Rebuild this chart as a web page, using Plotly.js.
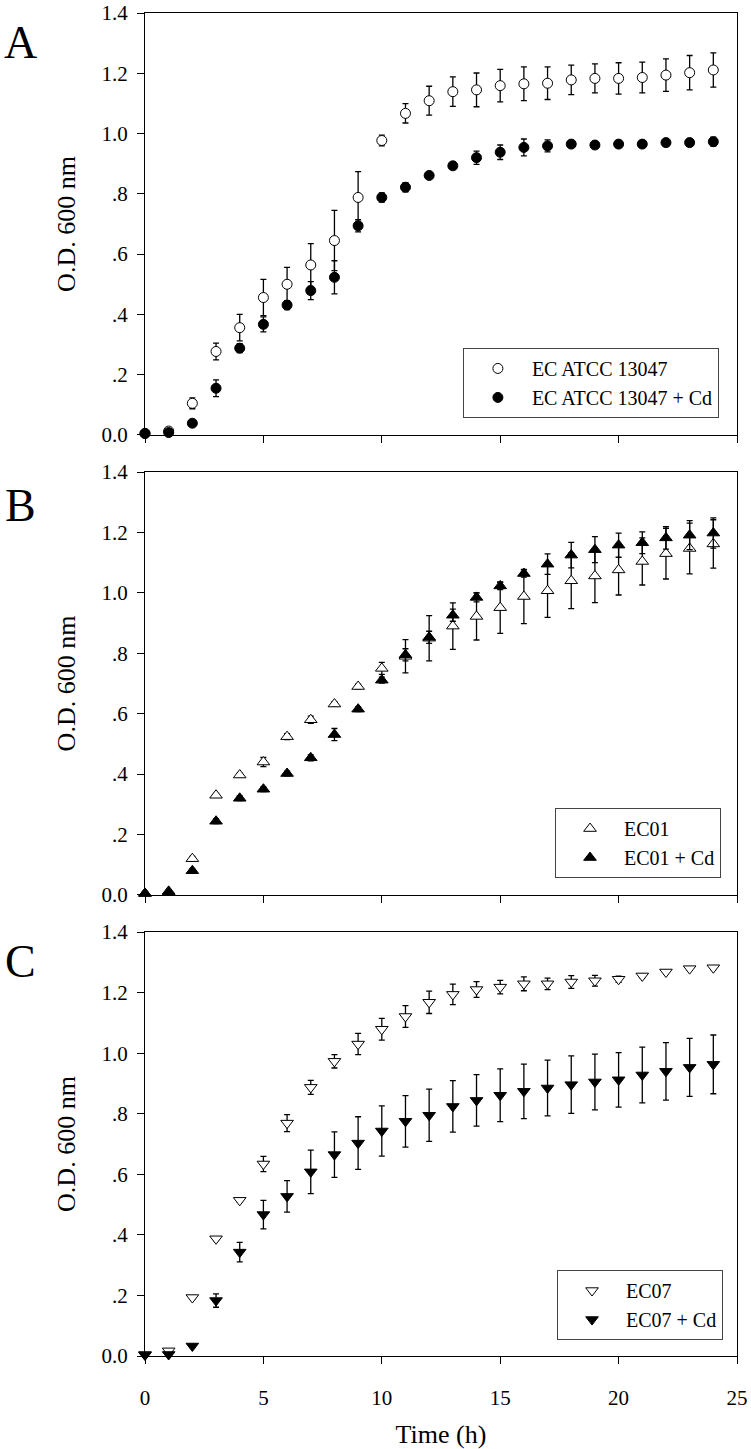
<!DOCTYPE html>
<html>
<head>
<meta charset="utf-8">
<script src="https://cdn.plot.ly/plotly-3.0.1.min.js"></script>
<style>html,body{margin:0;padding:0;background:#fff;}#chart{width:751px;height:1449px;}</style>
</head>
<body>
<div id="chart"></div>
<script>
// ---- data ----
const hours = [0,1,2,3,4,5,6,7,8,9,10,11,12,13,14,15,16,17,18,19,20,21,22,23,24];

const atccMean   = [0.005,0.013,0.105,0.277,0.356,0.456,0.500,0.564,0.645,0.788,0.977,1.067,1.109,1.139,1.145,1.159,1.165,1.167,1.178,1.183,1.183,1.186,1.194,1.202,1.211];
const atccErr    = [0.003,0.004,0.018,0.028,0.044,0.060,0.056,0.071,0.100,0.086,0.018,0.032,0.048,0.049,0.056,0.054,0.056,0.054,0.049,0.048,0.052,0.051,0.054,0.057,0.057];
const atccCdMean = [0.005,0.008,0.039,0.155,0.288,0.367,0.431,0.479,0.523,0.694,0.788,0.822,0.861,0.893,0.920,0.938,0.954,0.959,0.965,0.962,0.965,0.965,0.970,0.970,0.973];
const atccCdErr  = [0.003,0.003,0.010,0.028,0.015,0.025,0.015,0.030,0.055,0.020,0.015,0.015,0.008,0.010,0.022,0.024,0.028,0.020,0.008,0.010,0.010,0.010,0.012,0.010,0.015];

const ec01Mean   = [0.005,0.012,0.120,0.330,0.397,0.440,0.524,0.580,0.632,0.690,0.750,0.790,0.850,0.890,0.922,0.951,0.988,1.007,1.040,1.056,1.076,1.104,1.130,1.147,1.162];
const ec01Err    = [0.003,0.003,0.008,0.006,0.006,0.015,0.010,0.012,0.008,0.008,0.020,0.055,0.075,0.077,0.078,0.085,0.090,0.088,0.092,0.088,0.083,0.078,0.084,0.084,0.080];
const ec01CdMean = [0.005,0.010,0.080,0.244,0.320,0.350,0.402,0.454,0.531,0.615,0.711,0.795,0.853,0.926,0.985,1.023,1.064,1.095,1.125,1.143,1.158,1.166,1.182,1.191,1.198];
const ec01CdErr  = [0.003,0.003,0.006,0.008,0.008,0.008,0.008,0.010,0.020,0.008,0.010,0.020,0.020,0.020,0.015,0.012,0.012,0.034,0.042,0.043,0.040,0.036,0.037,0.048,0.050];

const ec07Mean   = [0.005,0.017,0.193,0.387,0.514,0.634,0.769,0.887,0.973,1.030,1.079,1.121,1.168,1.194,1.210,1.218,1.229,1.229,1.235,1.239,1.244,1.255,1.268,1.279,1.282];
const ec07Err    = [0.003,0.004,0.006,0.006,0.006,0.025,0.028,0.023,0.022,0.035,0.036,0.036,0.037,0.034,0.026,0.022,0.023,0.019,0.021,0.018,0.010,0.006,0.006,0.006,0.006];
const ec07CdMean = [0.003,0.005,0.033,0.183,0.343,0.467,0.527,0.608,0.665,0.703,0.743,0.775,0.795,0.824,0.844,0.861,0.874,0.885,0.896,0.905,0.912,0.928,0.940,0.953,0.963];
const ec07CdErr  = [0.002,0.003,0.005,0.022,0.032,0.047,0.052,0.072,0.075,0.087,0.083,0.085,0.086,0.085,0.085,0.087,0.090,0.092,0.095,0.092,0.090,0.092,0.095,0.096,0.097];

const seriesNames = ['EC ATCC 13047','EC ATCC 13047 + Cd','EC01','EC01 + Cd','EC07','EC07 + Cd'];
const panelLetters = ['A','B','C'];
const yTickVals = [0,0.2,0.4,0.6,0.8,1.0,1.2,1.4];
const yTickText = ['0.0','.2','.4','.6','.8','1.0','1.2','1.4'];
const xTickVals = [0,5,10,15,20,25];
const xTickText = ['0','5','10','15','20','25'];
const yTitle = 'O.D. 600 nm';
const xTitle = 'Time (h)';

// ---- styling ----
const FONT = '"Liberation Serif", "Times New Roman", serif';

function trace(y, err, name, symbol, filled, xa, ya, leg, size){
  return {
    x: hours, y: y, name: name, type: 'scatter', mode: 'markers',
    xaxis: xa, yaxis: ya, legend: leg, cliponaxis: false,
    marker: {symbol: symbol, size: size, color: filled ? '#000' : '#fff',
             line: {color: '#000', width: 1}},
    error_y: {type: 'data', array: err, visible: true, color: '#000', thickness: 1.3, width: 3}
  };
}

const data = [
  trace(atccMean,   atccErr,   seriesNames[0], 'circle', false, 'x',  'y',  'legend', 10),
  trace(atccCdMean, atccCdErr, seriesNames[1], 'circle', true,  'x',  'y',  'legend', 10),
  trace(ec01Mean,   ec01Err,   seriesNames[2], 'triangle-up', false, 'x2', 'y2', 'legend2', 11),
  trace(ec01CdMean, ec01CdErr, seriesNames[3], 'triangle-up', true,  'x2', 'y2', 'legend2', 11),
  trace(ec07Mean,   ec07Err,   seriesNames[4], 'triangle-down', false, 'x3', 'y3', 'legend3', 11),
  trace(ec07CdMean, ec07CdErr, seriesNames[5], 'triangle-down', true,  'x3', 'y3', 'legend3', 11)
];

function xax(anchor, labels){
  return {
    anchor: anchor, domain: [0,1], range: [0,25], tickmode: 'array',
    tickvals: xTickVals, ticktext: xTickText, showticklabels: labels,
    ticks: 'outside', ticklen: 7, tickwidth: 1, tickcolor: '#000',
    showline: true, linecolor: '#000', linewidth: 1, mirror: true,
    showgrid: false, zeroline: false, ticklabelstandoff: 16,
    tickfont: {family: FONT, size: 21, color: '#000'},
    title: labels ? {text: xTitle, font: {family: FONT, size: 26, color: '#000'}, standoff: 15} : {text: ''}
  };
}
function yax(anchor, domain){
  return {
    anchor: anchor, domain: domain, range: [0,1.4], tickmode: 'array',
    tickvals: yTickVals, ticktext: yTickText,
    ticks: 'outside', ticklen: 7, tickwidth: 1, tickcolor: '#000',
    showline: true, linecolor: '#000', linewidth: 1, mirror: true,
    showgrid: false, zeroline: false, ticklabelstandoff: 5,
    tickfont: {family: FONT, size: 21, color: '#000'},
    title: {text: yTitle, font: {family: FONT, size: 26, color: '#000'}, standoff: 18}
  };
}
function leg(x, y){
  return {x: x, y: y, xanchor: 'left', yanchor: 'top', bgcolor: '#fff',
          bordercolor: '#444', borderwidth: 1, traceorder: 'normal',
          font: {family: FONT, size: 20, color: '#000'}, itemwidth: 58};
}

const layout = {
  width: 751, height: 1449,
  margin: {l: 145, r: 14, t: 13, b: 93},
  paper_bgcolor: '#fff', plot_bgcolor: '#fff',
  showlegend: true,
  font: {family: FONT, color: '#000'},
  xaxis: xax('y', false),
  xaxis2: xax('y2', false),
  xaxis3: xax('y3', true),
  yaxis: yax('x', [0.6858, 1.0]),
  yaxis2: yax('x2', [0.3433, 0.6582]),
  yaxis3: yax('x3', [0, 0.3157]),
  legend: leg(0.537, 0.7506),
  legend2: leg(0.6926, 0.408),
  legend3: leg(0.696, 0.064),
  annotations: panelLetters.map((t, i) => ({
    text: t, xref: 'paper', yref: 'paper', x: -0.211, y: [0.978, 0.633, 0.2934][i],
    xanchor: 'center', yanchor: 'middle', showarrow: false,
    font: {family: FONT, size: 46, color: '#000'}
  }))
};

Plotly.newPlot('chart', data, layout, {displayModeBar: false, staticPlot: true});
</script>
</body>
</html>
